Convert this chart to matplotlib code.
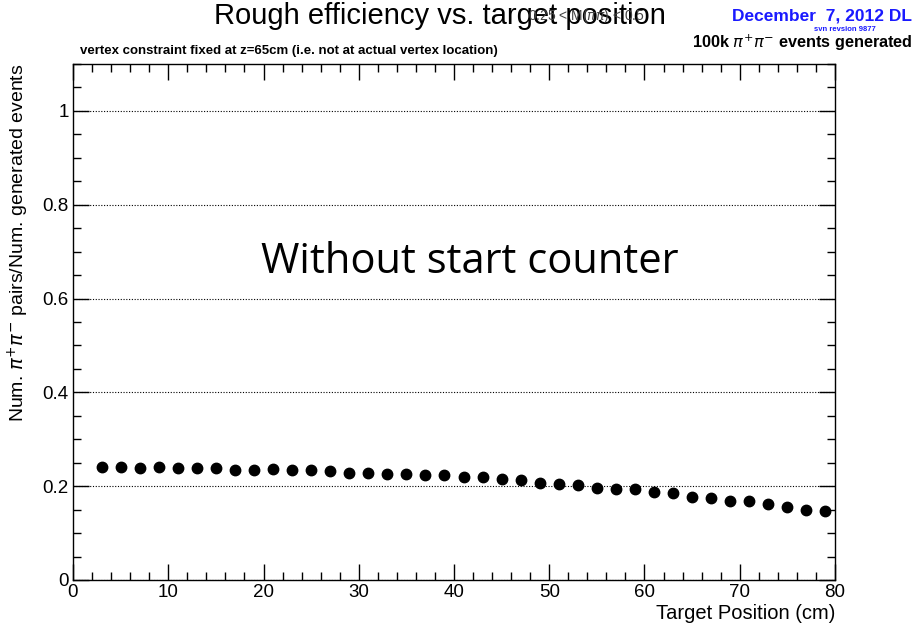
import matplotlib
matplotlib.use("Agg")
import matplotlib.pyplot as plt
from matplotlib.ticker import MultipleLocator, FuncFormatter

plt.rcParams['font.family'] = ['Liberation Sans', 'DejaVu Sans']

positions = [3, 5, 7, 9, 11, 13, 15, 17, 19, 21, 23, 25, 27, 29, 31, 33, 35, 37, 39,
             41, 43, 45, 47, 49, 51, 53, 55, 57, 59, 61, 63, 65, 67, 69, 71, 73, 75, 77, 79]
efficiency = [0.241, 0.241, 0.238, 0.241, 0.238, 0.238, 0.238, 0.234, 0.234, 0.236,
              0.234, 0.234, 0.232, 0.229, 0.229, 0.226, 0.226, 0.223, 0.223, 0.219,
              0.219, 0.216, 0.214, 0.207, 0.205, 0.203, 0.196, 0.194, 0.194, 0.188,
              0.186, 0.176, 0.174, 0.168, 0.168, 0.162, 0.156, 0.150, 0.148]

fig = plt.figure(figsize=(9.17, 6.27), dpi=100)
ax = fig.add_axes([73/917, 1-580/627, (835-73)/917, (580-64)/627])

ax.plot(positions, efficiency, 'o', color='black', markersize=7.5, zorder=3)

ax.set_xlim(0, 80)
ax.set_ylim(0, 1.1)
ax.xaxis.set_major_locator(MultipleLocator(10))
ax.xaxis.set_minor_locator(MultipleLocator(2))
ax.yaxis.set_major_locator(MultipleLocator(0.2))
ax.yaxis.set_minor_locator(MultipleLocator(0.05))
fmt = FuncFormatter(lambda v, p: ('%g' % round(v, 3)))
ax.yaxis.set_major_formatter(fmt)
ax.tick_params(axis='both', which='both', direction='in', top=True, right=True,
               labelsize=13.5, color='black', width=1.0)
ax.tick_params(axis='both', which='major', length=11.5, pad=3)
ax.tick_params(axis='both', which='minor', length=5.5)
ax.grid(axis='y', which='major', linestyle=(0, (1, 1.5)), color='black', linewidth=0.8)
for s in ax.spines.values():
    s.set_linewidth(1.0)

ax.set_xlabel('Target Position (cm)', fontsize=14.5, loc='right', labelpad=2)
ax.set_ylabel(r'Num. $\pi^{+}\pi^{-}$ pairs/Num. generated events', fontsize=14,
              loc='top', labelpad=8)

fig.text(0.48, 0.975, 'Rough efficiency vs. target position', ha='center', va='center',
         fontsize=21)
fig.text(0.64, 0.975, r'0.25 < M($\pi\pi$) < 0.5', ha='center', va='center',
         fontsize=10, color='#444444')
fig.text(0.995, 0.975, 'December  7, 2012 DL', ha='right', va='center', fontsize=12.5,
         color='#1a1aff', fontweight='bold')
fig.text(0.955, 0.953, 'svn revsion 9877', ha='right', va='center', fontsize=5.5,
         color='#1a1aff', fontweight='bold')
fig.text(0.995, 0.932, r'100k $\pi^{+}\pi^{-}$ events generated', ha='right', va='center',
         fontsize=11.7, fontweight='bold')
fig.text(0.087, 0.918, 'vertex constraint fixed at z=65cm (i.e. not at actual vertex location)',
         ha='left', va='center', fontsize=9.5, fontweight='bold')
ax.text(0.521, 0.616, 'Without start counter', transform=ax.transAxes, ha='center', va='center',
        fontsize=30, family=['Open Sans', 'DejaVu Sans'])

fig.savefig('out.png', dpi=100)
